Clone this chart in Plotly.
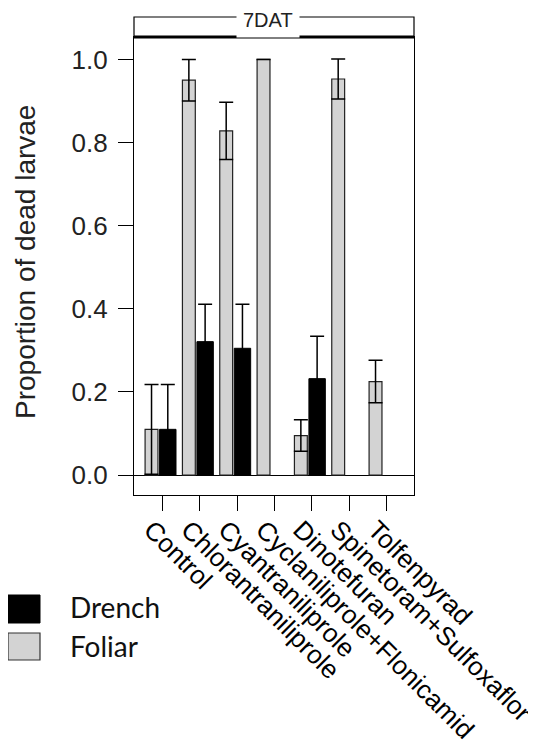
import plotly.graph_objects as go

# ---- data ----
categories = ["Control", "Chlorantraniliprole", "Cyantraniliprole",
              "Cyclaniliprole+Flonicamid", "Dinotefuran",
              "Spinetoram+Sulfoxaflor", "Tolfenpyrad"]
foliar_mean = [0.110, 0.950, 0.828, 1.000, 0.095, 0.953, 0.225]
foliar_se = [0.108, 0.050, 0.069, None, 0.038, 0.048, 0.051]
drench_mean = [0.110, 0.321, 0.305, None, 0.232, None, None]
drench_se = [0.108, 0.090, 0.106, None, 0.102, None, None]
y_ticks = [0.0, 0.2, 0.4, 0.6, 0.8, 1.0]
y_tick_text = ["0.0", "0.2", "0.4", "0.6", "0.8", "1.0"]
strip_label = "7DAT"
series_names = ["Drench", "Foliar"]

W, H = 536, 747
OFF = 8  # page body margin
# plot area in page pixels
PX0, PX1, PY0, PY1 = 134, 414, 37, 495
L = PX0 - OFF
T = PY0 - OFF
PW, PH = PX1 - PX0, PY1 - PY0
R = W - L - PW
B = H - T - PH

def px_x(p):
    return (p - PX0) / PW

def px_y(p):
    return (PY1 - p) / PH

xs = list(range(len(categories)))
axis_font = "Liberation Sans, Arial, sans-serif"

fig = go.Figure()
fig.add_trace(go.Bar(
    x=xs, y=foliar_mean, name=series_names[1],
    offset=-0.463, width=0.345,
    marker=dict(color="#d3d3d3", line=dict(color="#222222", width=1.2)),
    error_y=dict(type="data", array=foliar_se, visible=True,
                 color="black", thickness=1.5, width=7),
    showlegend=False,
))
fig.add_trace(go.Bar(
    x=xs, y=drench_mean, name=series_names[0],
    offset=-0.075, width=0.44,
    marker=dict(color="black", line=dict(color="black", width=1)),
    error_y=dict(type="data", array=drench_se, visible=True,
                 color="black", thickness=1.5, width=7),
    showlegend=False,
))

fig.update_layout(
    width=W, height=H,
    margin=dict(l=L, r=R, t=T, b=B, autoexpand=False),
    paper_bgcolor="white", plot_bgcolor="white",
    barmode="overlay",
    xaxis=dict(
        range=[-0.76, 6.74], tickmode="array", tickvals=xs, ticktext=categories,
        tickangle=45, ticks="outside", ticklen=15, tickwidth=1.2, tickcolor="black",
        ticklabeloverflow="allow", ticklabelshift=-11, ticklabelstandoff=-7,
        showline=True, linecolor="black", linewidth=1.3, mirror=True,
        showgrid=False, zeroline=False,
        tickfont=dict(family=axis_font, size=26, color="black"),
    ),
    yaxis=dict(
        range=[-0.048, 1.054], tickmode="array", tickvals=y_ticks, ticktext=y_tick_text,
        ticks="outside", ticklen=15, tickwidth=1.2, tickcolor="black",
        ticklabelstandoff=5,
        showline=True, linecolor="black", linewidth=1.3, mirror=True,
        showgrid=False, zeroline=True, zerolinecolor="black", zerolinewidth=1.2,
        tickfont=dict(family=axis_font, size=26, color="#222222"),
    ),
)

shapes = []
# strip box
shapes.append(dict(type="rect", xref="paper", yref="paper",
                   x0=0, x1=1, y0=1, y1=px_y(17),
                   line=dict(color="black", width=1.2), fillcolor="white", layer="above"))
shapes.append(dict(type="line", xref="paper", yref="paper",
                   x0=0, x1=1, y0=1, y1=1,
                   line=dict(color="black", width=3), layer="above"))
# legend keys
shapes.append(dict(type="rect", xref="paper", yref="paper",
                   x0=px_x(8), x1=px_x(40), y0=px_y(623), y1=px_y(595),
                   line=dict(color="black", width=1), fillcolor="black"))
shapes.append(dict(type="rect", xref="paper", yref="paper",
                   x0=px_x(8), x1=px_x(40), y0=px_y(660), y1=px_y(633),
                   line=dict(color="#333333", width=1.2), fillcolor="#d3d3d3"))
fig.update_layout(shapes=shapes)

annotations = [
    dict(text=strip_label, xref="paper", yref="paper", x=px_x(268), y=px_y(20),
         showarrow=False, xanchor="center", yanchor="middle",
         bgcolor="white", borderpad=6,
         font=dict(family=axis_font, size=20, color="#222222")),
    dict(text="Proportion of dead larvae", xref="paper", yref="paper",
         x=px_x(25), y=px_y(262), textangle=-90, showarrow=False,
         xanchor="center", yanchor="middle",
         font=dict(family=axis_font, size=28, color="#222222")),
    dict(text=series_names[0], xref="paper", yref="paper", x=px_x(68), y=px_y(607),
         showarrow=False, xanchor="left", yanchor="middle",
         font=dict(family="Lato, Open Sans, sans-serif", size=28, color="#111111")),
    dict(text=series_names[1], xref="paper", yref="paper", x=px_x(68), y=px_y(646),
         showarrow=False, xanchor="left", yanchor="middle",
         font=dict(family="Lato, Open Sans, sans-serif", size=28, color="#111111")),
]
fig.update_layout(annotations=annotations)

fig.write_html("out.html")
